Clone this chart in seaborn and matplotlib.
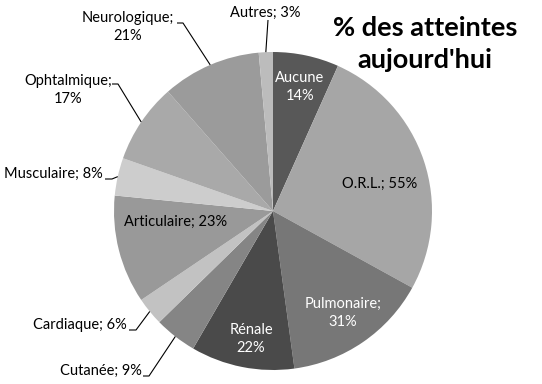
import numpy as np
import matplotlib
matplotlib.use("Agg")
import matplotlib.pyplot as plt
import seaborn as sns

categories = ["Aucune", "O.R.L.", "Pulmonaire", "Rénale", "Cutanée", "Cardiaque",
              "Articulaire", "Musculaire", "Ophtalmique", "Neurologique", "Autres"]
values = [14, 55, 31, 22, 9, 6, 23, 8, 17, 21, 3]
label_texts = ["Aucune\n14%", "O.R.L.; 55%", "Pulmonaire;\n31%", "Rénale\n22%",
               "Cutanée; 9%", "Cardiaque; 6%", "Articulaire; 23%", "Musculaire; 8%",
               "Ophtalmique;\n17%", "Neurologique;\n21%", "Autres; 3%"]
colors = ["#585858", "#a6a6a6", "#777777", "#4a4a4a", "#858585", "#c2c2c2",
          "#999999", "#cdcdcd", "#a9a9a9", "#9b9b9b", "#bcbcbc"]
title = "% des atteintes\naujourd'hui"

sns.set_style("white")
plt.rcParams['font.family'] = ['Lato', 'DejaVu Sans']

W, H = 542, 384
CX, CY, R = 273, 211, 159

def px(x, y):
    return ((x - CX) / R, (CY - y) / R)

fig = plt.figure(figsize=(W / 100, H / 100), dpi=100)
ax = fig.add_axes([0, 0, 1, 1])
ax.pie(values, colors=colors, startangle=90, counterclock=False, radius=1,
       wedgeprops=dict(linewidth=0))
ax.set_aspect("equal")
ax.set_xlim(-CX / R, (W - CX) / R)
ax.set_ylim((CY - H) / R, CY / R)
ax.axis("off")

# wedge mid angles (clockwise from top)
tot = sum(values)
cum = np.cumsum([0] + values)
mids = [(cum[i] + cum[i + 1]) / 2 / tot * 2 * np.pi for i in range(len(values))]

FS = 10.5
# layout: (text pos px, ha, color, leader start px or None)
layout = {
    "Aucune": ((300, 87), "center", "white", None),
    "O.R.L.": ((380, 184), "center", "black", None),
    "Pulmonaire": ((343, 313), "center", "white", None),
    "Rénale": ((251, 339), "center", "white", None),
    "Cutanée": ((142, 371), "right", "black", [(143, 376), (149, 376)]),
    "Cardiaque": ((127, 325), "right", "black", [(129, 330), (136, 330)]),
    "Articulaire": ((176, 222), "center", "black", None),
    "Musculaire": ((103, 174), "right", "black", [(105, 179), (112, 179)]),
    "Ophtalmique": ((68, 90), "center", "black", [(112, 84), (118, 84)]),
    "Neurologique": ((128, 27), "center", "black", [(177, 23), (183, 23)]),
    "Autres": ((265, 13), "center", "black", [(268, 20)]),
}

for i, cat in enumerate(categories):
    (tx, ty), ha, col, leader = layout[cat]
    x, y = px(tx, ty)
    ax.text(x, y, label_texts[i], ha=ha, va="center", color=col, fontsize=FS,
            linespacing=1.45, multialignment="center")
    if leader:
        pts = [px(*p) for p in leader]
        ex, ey = np.sin(mids[i]), np.cos(mids[i])
        xs = [p[0] for p in pts] + [ex]
        ys = [p[1] for p in pts] + [ey]
        ax.plot(xs, ys, color="black", lw=0.8, solid_capstyle="butt")

tx, ty = px(425, 44)
ax.text(tx, ty, title, ha="center", va="center", fontsize=19.5, fontweight="bold",
        linespacing=1.45, color="black")

fig.savefig("out.png", dpi=100, facecolor="white")
